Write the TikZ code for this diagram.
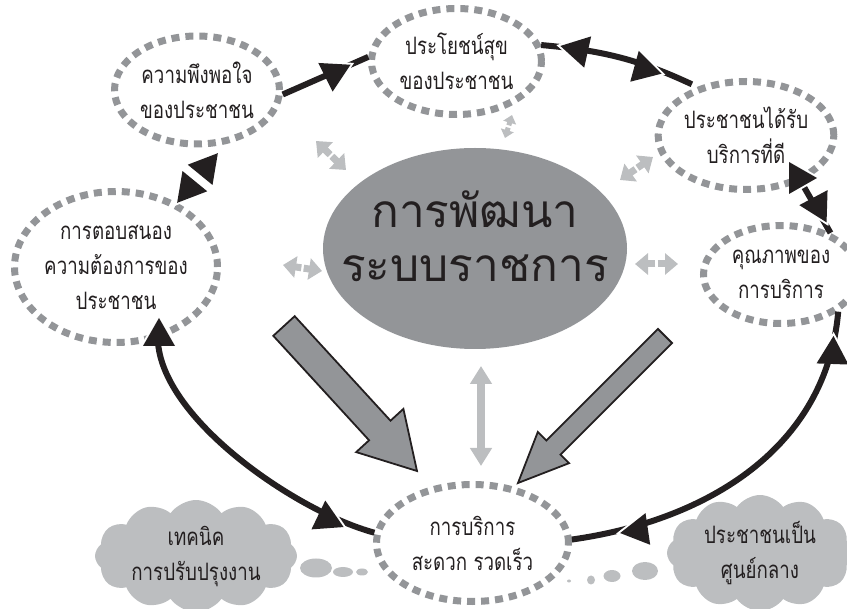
\documentclass[tikz,border=0pt]{standalone}
\usepackage{fontspec}
\usetikzlibrary{shapes.geometric,shapes.symbols,arrows.meta,calc}
\newfontfamily\thaifont[Script=Thai,FakeStretch=0.78]{Loma}
\newfontfamily\thaibig[Script=Thai]{Loma}
\definecolor{ringgray}{HTML}{939598}
\definecolor{softgray}{HTML}{BCBEC0}
\definecolor{inkblack}{HTML}{231F20}
\tikzset{
  ring/.style={ellipse, draw=ringgray, line width=7pt, dash pattern=on 8pt off 6pt,
    inner sep=0pt, align=center, text=inkblack, font=\thaifont\fontsize{24}{35}\selectfont},
  thought/.style={cloud, cloud puffs=12, cloud puff arc=110, cloud ignores aspect,
    fill=softgray, inner sep=0pt, align=center,
    text=inkblack, font=\thaifont\fontsize{24}{35}\selectfont},
  bline/.style={draw=inkblack, line width=6pt},
  blackhead/.pic={
    \draw[white, line width=4pt] (-14pt,16pt) -- (14pt,0pt) -- (-14pt,-16pt);
    \fill[inkblack] (-14pt,16pt) -- (14pt,0pt) -- (-14pt,-16pt) -- cycle;
  },
  ghalf/.style={draw=softgray, line width=7pt, shorten <=1.2pt,
    -{Triangle[length=13pt,width=21pt]}},
  gsmall/.style={draw=softgray, line width=5pt, shorten <=1.2pt,
    -{Triangle[length=8pt,width=13pt]}},
  gfull/.style={draw=softgray, line width=8pt,
    {Triangle[length=18pt,width=21pt]}-{Triangle[length=18pt,width=21pt]}},
  fatarrow/.style={fill=ringgray, draw=inkblack, line width=1.8pt, line join=miter}
}
\begin{document}
\begin{tikzpicture}[x=1pt,y=-1pt]
\useasboundingbox (0,0) rectangle (847,609);
%%% clouds and thought bubbles
\node[thought, minimum width=202pt, minimum height=112pt] (tech) at (196,556) {เทคนิค\\การปรับปรุงงาน};
\node[thought, minimum width=186pt, minimum height=116pt] (focus) at (760,553) {ประชาชนเป็น\\ศูนย์กลาง};
\fill[softgray] (316,568) ellipse (16 and 9.5);
\fill[softgray] (343,572) ellipse (10 and 5);
\fill[softgray] (362,572) ellipse (6 and 3.5);
\fill[softgray] (645,571) ellipse (13 and 9);
\fill[softgray] (612,576) ellipse (8.5 and 6);
\fill[softgray] (591,580) ellipse (4 and 4.5);
\fill[softgray] (569,581) ellipse (2 and 1.5);
%%% dashed rings
\node[ring, minimum width=165pt, minimum height=108pt] (e1) at (197,90) {ความพึงพอใจ\\ของประชาชน};
\node[ring, minimum width=170pt, minimum height=106pt] (e2) at (456.5,61.5) {ประโยชน์สุข\\ของประชาชน};
\node[ring, minimum width=171pt, minimum height=108pt] (e3) at (746,135.5) {ประชาชนได้รับ\\บริการที่ดี};
\node[ring, minimum width=155pt, minimum height=98pt] (e4) at (781,274.5) {คุณภาพของ\\การบริการ};
\node[ring, minimum width=203pt, minimum height=151pt] (e5) at (116,267) {การตอบสนอง\\ความต้องการของ\\ประชาชน};
\node[ring, minimum width=192pt, minimum height=117pt] (e6) at (472.5,543) {การบริการ\\สะดวก รวดเร็ว};
%%% centre
\node[ellipse, fill=ringgray, minimum width=304pt, minimum height=201pt, inner sep=0pt] (cen) at (475,248.5) {};
\node[align=center, text=inkblack, font=\thaibig\fontsize{46}{54}\selectfont] (centitle) at ($(cen)+(0,-12)$) {การพัฒนา\\ระบบราชการ};
%%% fat arrows
\draw[fatarrow] (294.7,316.2) -- (390.5,420.7) -- (403.4,408.9) -- (417,471)
  -- (356.2,452.1) -- (369.1,440.3) -- (273.3,335.8) -- cycle;
\draw[fatarrow] (672.1,343.1) -- (560.5,454.7) -- (569,463.2) -- (518,483)
  -- (537.8,432) -- (546.3,440.5) -- (657.9,328.9) -- cycle;
%%% black connectors
\draw[bline] (e1.-3) -- (e2.177);
\draw[bline, shorten >=6pt] (e2.11) to[bend left=10] (e3.135);
\draw[bline] (e3.-40) -- (e4.40);
\draw[bline] (e4.-33) to[out=-95, in=8] (e6.2);
\draw[bline] (e5.-60) to[out=-88, in=165, looseness=0.7] (e6.174);
%%% heads
\pic[rotate=26.6] at (338,71) {blackhead};
\pic[rotate=167.5] at (574,49) {blackhead};
\pic[rotate=-15.4] at (648,70) {blackhead};
\pic[rotate=0] at (803,178) {blackhead};
\pic[rotate=-62] at (820,210) {blackhead};
\pic[rotate=88] at (833,350) {blackhead};
\pic[rotate=-171.6] at (634,531) {blackhead};
\pic[rotate=90] at (159,332) {blackhead};
\pic[rotate=-25.6] at (331,521) {blackhead};
\pic[rotate=50.7] at (209,164) {blackhead};
\pic[rotate=-129.3] at (186,192) {blackhead};
%%% grey double arrows
\foreach \xa/\ya/\xb/\yb in {316/141/346/170, 653/157/620/180, 635/264/678/264, 283/265/322/271}
{
	\coordinate (gm) at ($(\xa,\ya)!0.5!(\xb,\yb)$);
	\draw[ghalf] (gm) -- (\xa,\ya);
	\draw[ghalf] (gm) -- (\xb,\yb);
}
\coordinate (gm) at (508.5,126.5);
\draw[gsmall] (gm) -- (512,115);
\draw[gsmall] (gm) -- (505,138);
\draw[gfull] (481,366) -- (481,466);
\end{tikzpicture}
\end{document}
